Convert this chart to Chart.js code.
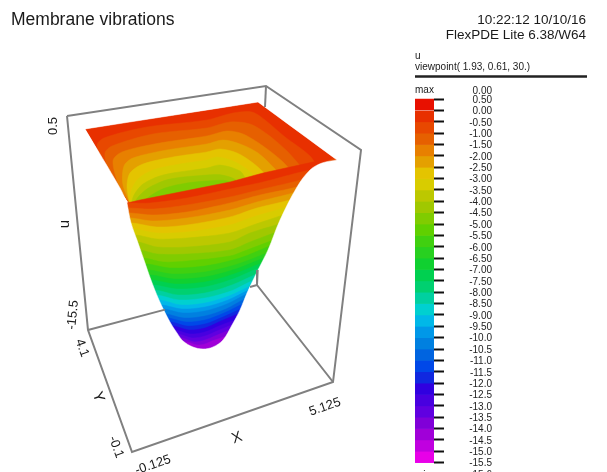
<!DOCTYPE html>
<html>
<head>
<meta charset="utf-8">
<title>Membrane vibrations</title>
<script src="https://cdn.jsdelivr.net/npm/chart.js@4"></script>
<style>
  html, body { margin: 0; padding: 0; background: #fff; overflow: hidden; }
  #wrap { position: relative; width: 607px; height: 472px; overflow: hidden; }
  canvas { position: absolute; left: 0; top: 0; filter: blur(0.35px); }
</style>
</head>
<body>
<div id="wrap">
  <canvas id="surfaceChart" width="607" height="472"></canvas>
  <canvas id="legendChart" width="607" height="480"></canvas>
</div>
<script>
// Colour levels, top of the bar to the bottom
const levelEdges = [0.5, 0, -0.5, -1, -1.5, -2, -2.5, -3, -3.5, -4, -4.5, -5, -5.5, -6, -6.5, -7, -7.5,
  -8, -8.5, -9, -9.5, -10, -10.5, -11, -11.5, -12, -12.5, -13, -13.5, -14, -14.5, -15, -15.5];
const levelColors = ['#e81000', '#e83000', '#e84800', '#e66000', '#e88000', '#e4a000', '#e4c400', '#d8cc00',
  '#bcc800', '#a0c800', '#80cc00', '#60d000', '#40d010', '#28d020', '#10d030', '#00d050',
  '#00d070', '#00d0a0', '#00d0d0', '#00b8e8', '#0098e8', '#0080e0', '#0064e0', '#0048e8',
  '#1028e0', '#3000e0', '#4800e0', '#6000e0', '#8000d8', '#a000d8', '#c000e0', '#e800e8'];
const tickValues = [0.9, ...levelEdges, -16];
const tickLabels = ['0.00', '0.50', '0.00', '-0.50', '-1.00', '-1.50', '-2.00', '-2.50', '-3.00', '-3.50', '-4.00',
  '-4.50', '-5.00', '-5.50', '-6.00', '-6.50', '-7.00', '-7.50', '-8.00', '-8.50', '-9.00', '-9.50', '-10.0',
  '-10.5', '-11.0', '-11.5', '-12.0', '-12.5', '-13.0', '-13.5', '-14.0', '-14.5', '-15.0', '-15.5', '-15.6'];

const boxEdges = [
  [[67, 116], [266, 86], [361, 150], [333, 382], [132, 452], [88, 330], [67, 116]],
  [[266, 86], [265, 107]],
  [[257.7, 270], [257, 285], [333, 382]],
  [[257, 285], [250, 287]],
  [[88, 330], [165, 309.6]]
];
const headerRule = [[415, 76.5], [587, 76.5]];

// Surface outline
const topSheet = [[85, 129], [258, 102], [337, 160], [130, 205], [120, 188]];
const frontRim = [[127, 203], [140, 200], [230, 182], [263, 173], [313, 162], [337, 160]];
const edgeRight = [[322, 163], [310, 170], [297, 187], [280, 220], [268, 250], [258, 270], [247, 293], [240, 310],
  [232, 325], [223, 340], [213, 347], [203, 349]];
const edgeLeft = [[193, 347], [183, 341], [177, 333], [170, 322], [159, 300], [151, 280], [144, 260], [137, 240],
  [131, 223], [127, 203]];
const surroundLead = [[85, 129], [85, 129], [258, 102], [258, 102], [337, 160], [337, 160]];
const surroundTail = [[127, 203], [120, 188], [85, 129], [85, 129], [60, 129], [60, 440], [395, 440], [395, 70],
  [60, 70], [60, 129], [85, 129]];

// Level lines seen on the far wall, above the front rim
const backContours = [
  [[131, 205], [112, 178], [97, 146], [104, 138], [147, 127], [207, 120], [233, 113], [252, 112], [265, 120], [285, 137], [310, 156], [320, 172]],
  [[131, 205], [120, 188], [108, 168], [105, 153], [112, 146], [153, 134], [207, 128], [230, 122], [250, 124], [267, 134], [287, 151], [302, 168]],
  [[131, 205], [120, 188], [113, 161], [122, 152], [160, 143], [207, 136], [227, 131], [243, 134], [263, 146], [282, 161], [292, 172]],
  [[131, 205], [123, 185], [124, 166], [133, 158], [167, 150], [207, 144], [223, 140], [240, 144], [258, 153], [275, 169], [282, 178]],
  [[130, 205], [127, 187], [130, 173], [143, 164], [173, 157], [207, 152], [220, 149], [237, 153], [253, 163], [265, 174], [270, 182]],
  [[131, 205], [131, 192], [138, 179], [153, 170], [180, 164], [207, 160], [217, 157], [233, 161], [248, 170], [255, 178], [258, 186]],
  [[131, 205], [134, 195], [143, 184], [163, 175], [207, 168], [220, 165], [240, 171], [246, 180], [248, 188]],
  [[133, 205], [139, 196], [150, 187], [170, 179], [207, 175], [222, 175], [236, 180], [238, 188]],
  [[140, 205], [150, 196], [165, 188], [187, 183], [207, 181], [228, 181], [240, 190]]
];

// Level lines on the near wall, left end to right end
const frontContours = [
  [[130, 203], [150, 203], [187, 198], [230, 189], [263, 182], [297, 173], [310, 170]],
  [[129, 208], [153, 209], [187, 205], [230, 197], [263, 189], [301, 180]],
  [[130, 213], [153, 215], [187, 212], [230, 203], [260, 195], [297, 187]],
  [[131, 218], [153, 221], [187, 218], [230, 210], [257, 202], [293, 193]],
  [[132, 223], [157, 227], [187, 225], [230, 217], [257, 208], [290, 200]],
  [[134, 229], [157, 233], [187, 232], [230, 225], [253, 217], [287, 207]],
  [[136, 235], [157, 239], [187, 238], [230, 233], [253, 225], [283, 215]],
  [[138, 242], [157, 247], [187, 247], [230, 242], [250, 233], [279, 224]],
  [[140, 250], [157, 254], [187, 254], [230, 250], [250, 242], [274, 233]],
  [[144, 258], [163, 262], [187, 261], [230, 256], [247, 250], [271, 241]],
  [[147, 264], [170, 268], [205, 266], [240, 258], [270, 246]],
  [[149, 270], [172, 274], [205, 272], [238, 264], [267, 253]],
  [[151, 275], [174, 279], [205, 277], [236, 269], [264, 258]],
  [[152, 280], [175, 284], [205, 282], [234, 274], [262, 263]],
  [[154, 285], [177, 289], [205, 287], [233, 279], [259, 268]],
  [[155, 290], [178, 295], [205, 293], [232, 285], [257, 274]],
  [[157, 295], [179, 300], [205, 298], [231, 291], [254, 280]],
  [[160, 300], [181, 305], [205, 303], [229, 296], [251, 286]],
  [[162, 305], [182, 309], [205, 307], [228, 300], [249, 290]],
  [[164, 309], [183, 313], [205, 311], [227, 304], [247, 294]],
  [[166, 314], [184, 318], [205, 316], [226, 309], [245, 299]],
  [[168, 318], [186, 322], [205, 320], [224, 313], [243, 304]],
  [[171, 322], [187, 326], [205, 324], [223, 317], [241, 309]],
  [[173, 326], [189, 330], [205, 328], [221, 321], [238, 314]],
  [[175, 330], [190, 334], [205, 332], [219, 326], [235, 320]],
  [[178, 334], [192, 338], [205, 336], [217, 331], [232, 325]],
  [[182, 338], [194, 342], [205, 340], [215, 336], [227, 331]],
  [[187, 342], [197, 345], [205, 344], [212, 341], [221, 338]]
];

// Text placed on the picture
const pictureTexts = [
  { text: 'Membrane vibrations', at: [11, 20], font: '17.5px', align: 'left', angle: 0 },
  { text: '10:22:12 10/10/16', at: [586, 20], font: '13.5px', align: 'right', angle: 0 },
  { text: 'FlexPDE Lite 6.38/W64', at: [586, 35], font: '13.5px', align: 'right', angle: 0 },
  { text: 'u', at: [415, 56], font: '10px', align: 'left', angle: 0 },
  { text: 'viewpoint( 1.93, 0.61, 30.)', at: [415, 67], font: '10px', align: 'left', angle: 0 },
  { text: 'max', at: [415, 90], font: '10px', align: 'left', angle: 0 },
  { text: 'min', at: [415, 475], font: '10px', align: 'left', angle: 0 },
  { text: '0.5', at: [53, 126], font: '13px', align: 'center', angle: -90 },
  { text: 'u', at: [65, 224], font: '15px', align: 'center', angle: -90 },
  { text: '-15.5', at: [73, 315], font: '13px', align: 'center', angle: -84 },
  { text: '4.1', at: [82, 348], font: '13px', align: 'center', angle: 70 },
  { text: 'Y', at: [98, 397], font: '15px', align: 'center', angle: 70 },
  { text: '-0.1', at: [116, 447], font: '13px', align: 'center', angle: 70 },
  { text: 'X', at: [237, 438], font: '15px', align: 'center', angle: -20 },
  { text: '5.125', at: [325, 407], font: '13px', align: 'center', angle: -19 },
  { text: '-0.125', at: [153, 465], font: '13px', align: 'center', angle: -19 }
];

const FONT = '"Liberation Sans", Arial, sans-serif';
const toPoints = (pairs) => pairs.map(([x, y]) => ({ x, y }));

const lineSet = (pairs, color, width) => ({
  data: toPoints(pairs), showLine: true, fill: false, pointRadius: 0,
  borderColor: color, borderWidth: width, tension: 0
});
const shapeSet = (pairs, color, tension) => ({
  data: toPoints(pairs), showLine: true, fill: 'shape', pointRadius: 0,
  backgroundColor: color, borderColor: color, borderWidth: 0.5, tension
});

// Everything under a near wall level line; runs past the silhouette, the surround trims it
const belowContour = (line) => {
  const [lx, ly] = line[0];
  const [rx, ry] = line[line.length - 1];
  return [[lx - 30, ly], ...line, [rx + 30, ry - 10], [rx + 30, 420], [lx - 30, 420]];
};

const surfaceSets = [
  shapeSet(topSheet, levelColors[1], 0),
  ...backContours.map((line, i) => shapeSet(line, levelColors[i + 2], 0.3)),
  shapeSet([...frontRim, ...edgeRight, ...edgeLeft], levelColors[1], 0),
  ...frontContours.map((line, i) => shapeSet(belowContour(line), levelColors[i + 2], 0.3)),
  // white surround, keeps the surface edge clean
  shapeSet([...surroundLead, ...edgeRight, ...edgeLeft, ...surroundTail], '#ffffff', 0.35),
  ...boxEdges.map((edge) => lineSet(edge, '#808080', 2)),
  lineSet(headerRule, '#222222', 2.5)
];
// first in the list is painted first
surfaceSets.forEach((set, i) => { set.order = surfaceSets.length - i; });

const textPlugin = {
  id: 'pictureTexts',
  afterDraw(chart) {
    const { ctx, scales } = chart;
    ctx.save();
    ctx.fillStyle = '#1a1a1a';
    ctx.textBaseline = 'middle';
    pictureTexts.forEach((t) => {
      ctx.save();
      ctx.translate(scales.x.getPixelForValue(t.at[0]), scales.y.getPixelForValue(t.at[1]));
      ctx.rotate(t.angle * Math.PI / 180);
      ctx.font = t.font + ' ' + FONT;
      ctx.textAlign = t.align;
      ctx.fillText(t.text, 0, 0);
      ctx.restore();
    });
    ctx.restore();
  }
};

new Chart(document.getElementById('surfaceChart'), {
  type: 'scatter',
  data: { datasets: surfaceSets },
  plugins: [textPlugin],
  options: {
    responsive: false,
    animation: false,
    layout: { padding: 0 },
    plugins: { legend: { display: false }, tooltip: { enabled: false } },
    scales: {
      x: { type: 'linear', min: 0, max: 607, display: false },
      y: { type: 'linear', min: 0, max: 472, reverse: true, display: false }
    }
  }
});

// Colour bar: floating bars on a real value axis
new Chart(document.getElementById('legendChart'), {
  type: 'bar',
  data: {
    labels: ['u'],
    datasets: levelColors.map((color, i) => ({
      data: [[levelEdges[i + 1], levelEdges[i]]],
      backgroundColor: color,
      borderWidth: 0,
      grouped: false,
      barPercentage: 1,
      categoryPercentage: 1
    }))
  },
  options: {
    responsive: false,
    animation: false,
    layout: { padding: { left: 415, right: 115, top: 90, bottom: 6 } },
    plugins: { legend: { display: false }, tooltip: { enabled: false } },
    scales: {
      x: { display: false },
      y: {
        position: 'right',
        min: -16,
        max: 0.9,
        afterBuildTicks: (axis) => { axis.ticks = tickValues.map((value) => ({ value })); },
        afterFit: (axis) => { axis.width = 58; },
        border: { display: false },
        grid: {
          drawOnChartArea: false,
          tickLength: 10,
          tickWidth: 2,
          tickColor: (c) => (c.index === 0 || c.index === tickValues.length - 1 ? 'rgba(0,0,0,0)' : '#111111')
        },
        ticks: {
          autoSkip: false,
          maxRotation: 0,
          crossAlign: 'far',
          padding: 0,
          labelOffset: 1,
          color: '#222222',
          font: { family: FONT, size: 10 },
          callback: (value, index) => tickLabels[index]
        }
      }
    }
  }
});
</script>
</body>
</html>
